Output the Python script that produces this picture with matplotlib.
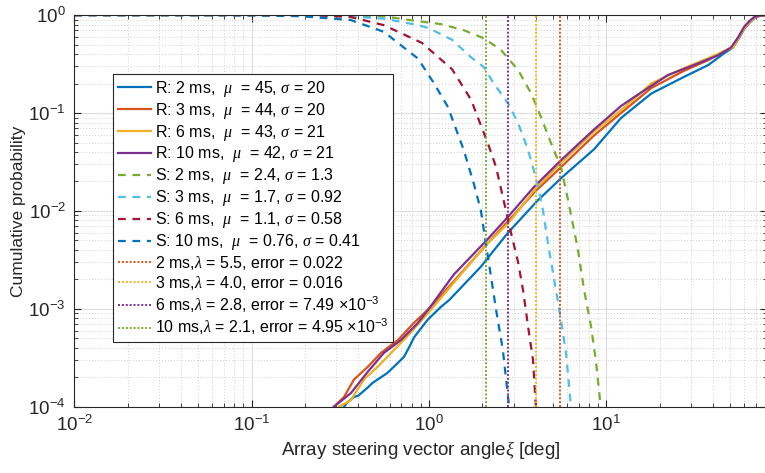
import matplotlib
matplotlib.use("Agg")
import matplotlib.pyplot as plt
from matplotlib.ticker import LogLocator, NullFormatter

plt.rcParams['font.family'] = ['Liberation Sans', 'DejaVu Sans']
plt.rcParams['mathtext.fontset'] = 'custom'
plt.rcParams['mathtext.rm'] = 'Liberation Sans'
plt.rcParams['mathtext.it'] = 'Liberation Serif:italic'
plt.rcParams['mathtext.bf'] = 'Liberation Sans:bold'

# measured CDFs (R)
r2_x = [0.332, 0.345, 0.378, 0.40, 0.453, 0.48, 0.536, 0.58, 0.635, 0.68, 0.723, 0.77,
        0.823, 0.90, 0.987, 1.17, 1.30, 1.96, 2.79, 4.12, 5.68, 8.53, 12.1, 17.9, 27.4,
        37.5, 46.1, 51.8, 55.5, 59.8, 64.0, 68.1, 72.0, 79.5]
r2_y = [1.0e-4, 1.1e-4, 1.26e-4, 1.3e-4, 1.58e-4, 1.75e-4, 2.0e-4, 2.2e-4, 2.57e-4, 2.9e-4,
        3.24e-4, 4.0e-4, 5.1e-4, 6.3e-4, 7.8e-4, 1.05e-3, 1.23e-3, 2.69e-3, 6.0e-3, 0.0129,
        0.0224, 0.0427, 0.089, 0.158, 0.234, 0.309, 0.407, 0.468, 0.57, 0.72, 0.83, 0.93,
        0.975, 1.0]

r3_x = [0.291, 0.332, 0.378, 0.453, 0.536, 0.668, 0.823, 1.026, 2.15, 4.0, 5.55, 8.53,
        12.1, 17.9, 27.4, 37.5, 46.1, 51.8, 55.5, 59.8, 64.0, 68.1, 72.0, 79.5]
r3_y = [1.0e-4, 1.26e-4, 1.9e-4, 2.57e-4, 3.55e-4, 4.8e-4, 7.2e-4, 1.05e-3, 4.7e-3, 0.016,
        0.028, 0.059, 0.1, 0.18, 0.27, 0.347, 0.427, 0.47, 0.58, 0.73, 0.84, 0.94, 0.98, 1.0]

r6_x = [0.311, 0.363, 0.43, 0.515, 0.635, 0.791, 1.026, 2.04, 2.8, 4.0, 5.55, 8.53, 12.1,
        17.9, 27.4, 37.5, 46.1, 51.8, 55.5, 59.8, 64.0, 68.1, 72.0, 79.5]
r6_y = [1.0e-4, 1.17e-4, 1.9e-4, 2.57e-4, 3.8e-4, 5.75e-4, 9.8e-4, 4.27e-3, 7.49e-3, 0.017,
        0.031, 0.0646, 0.107, 0.20, 0.288, 0.363, 0.43, 0.47, 0.58, 0.73, 0.84, 0.94, 0.98,
        1.0]

r10_x = [0.291, 0.363, 0.453, 0.557, 0.695, 0.867, 1.026, 1.38, 2.1, 2.79, 3.91, 5.55,
         8.53, 12.1, 14.3, 22.3, 31.2, 42.7, 50.5, 55.5, 59.8, 64.0, 68.1, 72.0, 79.5]
r10_y = [1.0e-4, 1.38e-4, 2.29e-4, 3.55e-4, 4.8e-4, 7.2e-4, 1.07e-3, 2.24e-3, 4.95e-3,
         8.7e-3, 0.0176, 0.033, 0.068, 0.118, 0.145, 0.245, 0.309, 0.389, 0.468, 0.60,
         0.76, 0.87, 0.955, 0.985, 1.0]

# simulated complementary curves (S)
s2_x = [0.01, 0.1, 0.3, 0.56, 0.9, 1.17, 1.575, 2.04, 2.55, 3.18, 3.76, 4.28, 4.88, 5.55,
        6.08, 6.92, 7.49, 8.2, 8.72, 9.3]
s2_y = [1.0, 1.0, 0.995, 0.97, 0.86, 0.81, 0.70, 0.58, 0.44, 0.275, 0.16, 0.091, 0.049,
        0.028, 0.013, 0.004, 0.00156, 6.6e-4, 3.0e-4, 1.0e-4]

s3_x = [0.01, 0.1, 0.2, 0.36, 0.56, 0.87, 0.99, 1.35, 1.73, 2.04, 2.32, 2.79, 3.18, 3.62,
        3.90, 4.17, 4.39, 4.75, 5.20, 5.55, 5.93, 6.32]
s3_y = [1.0, 1.0, 0.995, 0.97, 0.92, 0.79, 0.74, 0.56, 0.37, 0.295, 0.20, 0.126, 0.079,
        0.042, 0.026, 0.016, 0.0102, 0.004, 0.00156, 7.7e-4, 3.5e-4, 1.0e-4]

s6_x = [0.01, 0.1, 0.237, 0.363, 0.557, 0.914, 1.35, 1.73, 1.91, 2.15, 2.39, 2.65, 2.90,
        3.18, 3.39, 3.62, 3.86, 4.01]
s6_y = [1.0, 1.0, 0.995, 0.955, 0.79, 0.52, 0.28, 0.136, 0.085, 0.049, 0.028, 0.0123,
        0.0060, 0.0030, 0.00156, 6.6e-4, 3.0e-4, 1.0e-4]

s10_x = [0.01, 0.05, 0.1, 0.19, 0.363, 0.557, 0.867, 1.07, 1.28, 1.38, 1.57, 1.79, 1.96,
         2.15, 2.39, 2.61, 2.83]
s10_y = [1.0, 1.0, 0.995, 0.975, 0.89, 0.675, 0.36, 0.2, 0.115, 0.079, 0.042, 0.019,
         0.0102, 0.0034, 9.8e-4, 3.8e-4, 1.0e-4]

# thresholds
lambdas = [5.5, 4.0, 2.8, 2.1]
lambda_labels = [r'2 ms,$\lambda$ = 5.5, error = 0.022',
                 r'3 ms,$\lambda$ = 4.0, error = 0.016',
                 r'6 ms,$\lambda$ = 2.8, error = 7.49 $\times\mathregular{10^{-3}}$',
                 r'10 ms,$\lambda$ = 2.1, error = 4.95 $\times\mathregular{10^{-3}}$']

blue, orange, yellow, purple = '#0072BD', '#D95319', '#EDB120', '#7E2F8E'
green, cyan, maroon = '#77AC30', '#4DBEEE', '#A2142F'

fig = plt.figure(figsize=(7.65, 4.73), dpi=100)
ax = fig.add_axes([0.097, 0.14, 0.905, 0.828])

lw = 1.6
ax.plot(r2_x, r2_y, color=blue, lw=lw, label=r'R: 2 ms,  $\mu$  = 45, $\sigma$ = 20')
ax.plot(r3_x, r3_y, color=orange, lw=lw, label=r'R: 3 ms,  $\mu$  = 44, $\sigma$ = 20')
ax.plot(r6_x, r6_y, color=yellow, lw=lw, label=r'R: 6 ms,  $\mu$  = 43, $\sigma$ = 21')
ax.plot(r10_x, r10_y, color=purple, lw=lw, label=r'R: 10 ms,  $\mu$  = 42, $\sigma$ = 21')

dash = (0, (3.5, 3))
ax.plot(s2_x, s2_y, color=green, lw=lw, ls=dash, label=r'S: 2 ms,  $\mu$  = 2.4, $\sigma$ = 1.3')
ax.plot(s3_x, s3_y, color=cyan, lw=lw, ls=dash, label=r'S: 3 ms,  $\mu$  = 1.7, $\sigma$ = 0.92')
ax.plot(s6_x, s6_y, color=maroon, lw=lw, ls=dash, label=r'S: 6 ms,  $\mu$  = 1.1, $\sigma$ = 0.58')
ax.plot(s10_x, s10_y, color=blue, lw=lw, ls=dash, label=r'S: 10 ms,  $\mu$  = 0.76, $\sigma$ = 0.41')

for lam, c, lab in zip(lambdas, [orange, yellow, purple, green], lambda_labels):
    ax.axvline(lam, color=c, lw=1.4, ls=(0, (1, 1)), label=lab)

ax.set_xscale('log')
ax.set_yscale('log')
ax.set_xlim(1e-2, 80)
ax.set_ylim(1e-4, 1)

ax.xaxis.set_major_locator(LogLocator(base=10, numticks=10))
ax.xaxis.set_minor_locator(LogLocator(base=10, subs=range(2, 10), numticks=20))
ax.xaxis.set_minor_formatter(NullFormatter())
ax.yaxis.set_minor_locator(LogLocator(base=10, subs=range(2, 10), numticks=20))
ax.yaxis.set_minor_formatter(NullFormatter())

ax.grid(True, which='major', color='#dcdcdc', lw=0.8, ls='-')
ax.grid(True, which='minor', color='#d0d0d0', lw=0.7, ls=(0, (1, 2)))
ax.set_axisbelow(True)
ax.tick_params(which='both', direction='in', top=True, right=True, colors='#262626',
               labelsize=13.5, pad=6)
ax.tick_params(which='major', length=5, width=0.8)
ax.tick_params(which='minor', length=3, width=0.6)
for s in ax.spines.values():
    s.set_color('#262626')
    s.set_linewidth(0.8)

ax.set_xlabel(r'Array steering vector angle$\xi$ [deg]', fontsize=13.5, color='#262626',
              labelpad=3)
ax.set_ylabel('Cumulative probability', fontsize=12.5, color='#262626', labelpad=2)

leg = ax.legend(loc='upper left', bbox_to_anchor=(0.056, 0.85), fontsize=11.5,
                frameon=True, fancybox=False, framealpha=1, edgecolor='#262626',
                handlelength=2.1, handletextpad=0.2, labelspacing=0.12,
                borderpad=0.3, borderaxespad=0)
leg.get_frame().set_linewidth(0.8)

fig.savefig('out.png', dpi=100)
